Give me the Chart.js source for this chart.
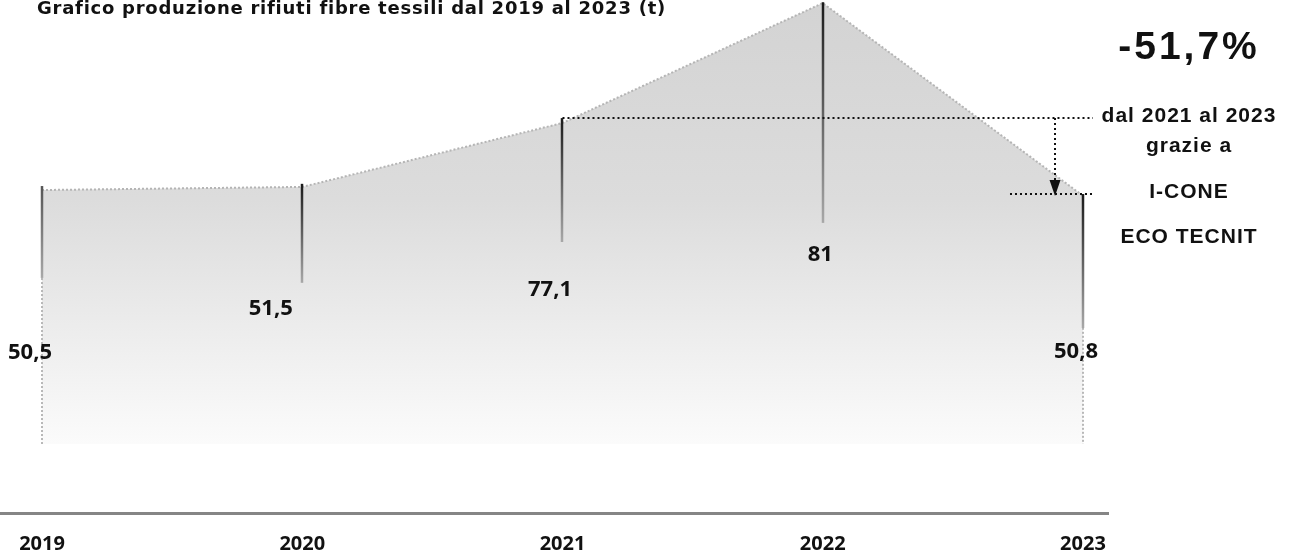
<!DOCTYPE html>
<html>
<head>
<meta charset="utf-8">
<script src="https://cdn.jsdelivr.net/npm/chart.js@4.4.1/dist/chart.umd.min.js"></script>
<style>
  html, body { margin: 0; padding: 0; background: #fff; }
  #wrap { position: relative; width: 1291px; height: 555px; overflow: hidden; }
  .txt { position: absolute; font-weight: 700; color: #111; white-space: nowrap; line-height: 1; }
  .title { left: 37px; top: -3px; font: 700 18px "DejaVu Sans", sans-serif; letter-spacing: 0.75px; }
  .side { left: 1089px; width: 200px; text-align: center; font-family: "Liberation Sans", Arial, sans-serif; font-size: 21px; letter-spacing: 1px; }
</style>
</head>
<body>
<div id="wrap">
  <canvas id="myAreaChart" width="1291" height="555"></canvas>
  <div class="txt title">Grafico produzione rifiuti fibre tessili dal 2019 al 2023 (t)</div>
  <div class="txt side" style="top:26px;font-size:39px;letter-spacing:3px;">-51,7%</div>
  <div class="txt side" style="top:104px;">dal 2021 al 2023</div>
  <div class="txt side" style="top:134px;">grazie a</div>
  <div class="txt side" style="top:180px;">I-CONE</div>
  <div class="txt side" style="top:225px;">ECO TECNIT</div>
</div>
<script>
// values shown on the chart (t)
var years = [2019, 2020, 2021, 2022, 2023];
var values = [50.5, 51.5, 77.1, 81, 50.8];

// drawn height of the grey shape (0 = bottom of the shape, 100 = top of canvas)
var areaLevel = [57.2, 57.9, 72.3, 99.3, 55.9];
// vertical marker at each year: top and bottom, same units
var stemTop = [58.1, 58.6, 73.4, 99.5, 56.3];
var stemBottom = [37.4, 36.3, 45.5, 49.8, 26.1];
// where the value label sits, same units
var labelLevel = [20.9, 30.9, 35.2, 43.1, 21.1];
// sideways nudge of each value label (px)
var labelShift = [-12, -31.5, -12.5, -2.5, -7];

function fmt(v) {
  return String(v).replace('.', ',');
}

var decor = {
  id: 'decor',
  afterDatasetsDraw: function(chart) {
    var ctx = chart.ctx, x = chart.scales.x, y = chart.scales.y;
    ctx.save();

    // dotted sides of the grey shape
    ctx.setLineDash([2, 2]);
    ctx.lineWidth = 2;
    ctx.strokeStyle = '#b8b8b8';
    [0, years.length - 1].forEach(function(i) {
      var px = x.getPixelForValue(years[i]);
      ctx.beginPath();
      ctx.moveTo(px, y.getPixelForValue(areaLevel[i]));
      ctx.lineTo(px, y.getPixelForValue(0));
      ctx.stroke();
    });
    ctx.setLineDash([]);

    // vertical markers
    years.forEach(function(yr, i) {
      var px = Math.round(x.getPixelForValue(yr));
      var t = y.getPixelForValue(stemTop[i]), b = y.getPixelForValue(stemBottom[i]);
      var g = ctx.createLinearGradient(0, t, 0, b);
      g.addColorStop(0, i === 0 ? '#555555' : '#1a1a1a');
      g.addColorStop(1, '#a8a8a8');
      ctx.strokeStyle = g;
      ctx.lineWidth = 2.5;
      ctx.beginPath();
      ctx.moveTo(px, t);
      ctx.lineTo(px, b);
      ctx.stroke();
    });

    // value labels
    ctx.font = '700 22px "Open Sans", sans-serif';
    ctx.fillStyle = '#111';
    ctx.textAlign = 'center';
    ctx.textBaseline = 'alphabetic';
    years.forEach(function(yr, i) {
      var px = x.getPixelForValue(yr) + labelShift[i];
      var py = y.getPixelForValue(labelLevel[i]) + 8;
      ctx.fillText(fmt(values[i]), px, py);
    });

    // 2021 -> 2023 drop annotation
    var x21 = x.getPixelForValue(2021), x23 = x.getPixelForValue(2023);
    var yHi = y.getPixelForValue(stemTop[2]), yLo = y.getPixelForValue(stemTop[4]);
    var ax = Math.round(x23 - 28);
    ctx.strokeStyle = '#111';
    ctx.fillStyle = '#111';
    ctx.lineWidth = 2;
    ctx.setLineDash([2, 3]);
    ctx.beginPath();
    ctx.moveTo(x21, yHi); ctx.lineTo(x23 + 10, yHi);
    ctx.moveTo(x23 - 73, yLo); ctx.lineTo(x23 + 9, yLo);
    ctx.moveTo(ax, yHi); ctx.lineTo(ax, yLo - 12);
    ctx.stroke();
    ctx.setLineDash([]);
    ctx.beginPath();
    ctx.moveTo(ax - 5.5, yLo - 14);
    ctx.lineTo(ax + 5.5, yLo - 14);
    ctx.lineTo(ax, yLo + 2);
    ctx.closePath();
    ctx.fill();

    ctx.restore();
  }
};

var data = {
  datasets: [{
    label: 'Rifiuti fibre tessili',
    data: years.map(function(yr, i) { return { x: yr, y: areaLevel[i] }; }),
    borderColor: '#b5b5b5',
    borderWidth: 2,
    borderDash: [2, 2],
    pointRadius: 0,
    tension: 0,
    fill: 'origin',
    backgroundColor: function(context) {
      var area = context.chart.chartArea;
      if (!area) return '#dddddd';
      var yScale = context.chart.scales.y;
      var g = context.chart.ctx.createLinearGradient(0, area.top, 0, yScale.getPixelForValue(0));
      g.addColorStop(0, '#d3d3d3');
      g.addColorStop(0.45, '#dcdcdc');
      g.addColorStop(1, '#fbfbfb');
      return g;
    }
  }]
};

var options = {
  responsive: false,
  animation: false,
  layout: { padding: { left: 0, right: 183, top: 0, bottom: 0 } },
  scales: {
    x: {
      type: 'linear',
      min: 2018.8386,
      max: 2023.0961,
      afterBuildTicks: function(axis) {
        axis.ticks = years.map(function(v) { return { value: v }; });
      },
      afterFit: function(axis) { axis.height = 42; },
      grid: { display: false },
      border: { display: true, color: '#858585', width: 3 },
      ticks: {
        autoSkip: false,
        maxRotation: 0,
        padding: 11,
        color: '#111',
        font: { family: '"Open Sans", sans-serif', size: 20, weight: '700' },
        callback: function(v) { return String(v); }
      }
    },
    y: {
      display: false,
      min: -15.54,
      max: 100
    }
  },
  plugins: {
    legend: { display: false },
    tooltip: { enabled: false }
  }
};

var ctx = document.getElementById('myAreaChart').getContext('2d');
var myAreaChart = new Chart(ctx, {
  type: 'line',
  data: data,
  options: options,
  plugins: [decor]
});
</script>
</body>
</html>
